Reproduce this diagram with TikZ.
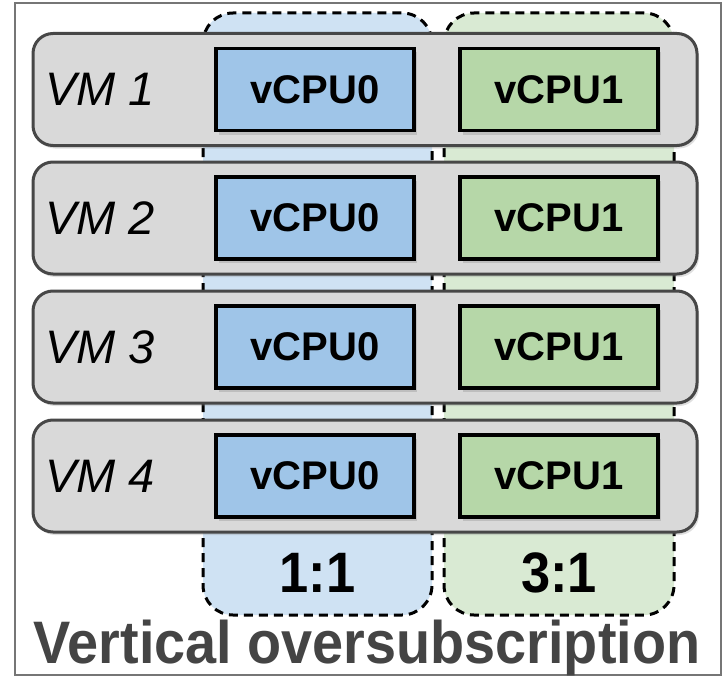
\documentclass[tikz,border=0pt]{standalone}
\usepackage{fontspec}
\setmainfont{Liberation Sans}
\usetikzlibrary{shadows}
\definecolor{frameGray}{HTML}{767676}
\definecolor{vmFill}{HTML}{D9D9D9}
\definecolor{vmLine}{HTML}{474747}
\definecolor{cpuBlue}{HTML}{9FC5E8}
\definecolor{cpuGreen}{HTML}{B6D7A8}
\definecolor{colBlue}{HTML}{CFE2F3}
\definecolor{colGreen}{HTML}{D9EAD3}
\definecolor{titleGray}{HTML}{444444}
\tikzset{
  column/.style={draw=black, dash pattern=on 9pt off 6pt, line width=3pt, rounded corners=30pt},
  vmbox/.style={draw=vmLine, fill=vmFill, line width=3pt, rounded corners=20pt,
    minimum width=664pt, minimum height=112pt, inner sep=0pt,
    drop shadow={shadow xshift=2pt, shadow yshift=-3pt, opacity=0.25}},
  cpubox/.style={draw=black, line width=3.2pt, minimum width=198pt, minimum height=82pt, inner sep=0pt,
    font=\fontsize{40}{44}\selectfont\bfseries,
    drop shadow={shadow xshift=3pt, shadow yshift=-4pt, opacity=0.3}},
  vmlabel/.style={anchor=west, inner sep=0pt, font=\fontsize{47}{50}\selectfont\itshape},
  ratio/.style={font=\fontsize{57}{60}\selectfont\bfseries, inner sep=0pt, xscale=0.92},
}
\begin{document}
\begin{tikzpicture}[x=1pt, y=-1pt]
  \useasboundingbox (0,0) rectangle (728,677);
  % outer frame
  \draw[frameGray, line width=2.4pt] (15,3) rectangle (721,675);
  % dashed mapping columns
  \path[column, fill=colBlue] (203,13) rectangle (432,615);
  \path[column, fill=colGreen] (444,13) rectangle (674,615);
  % virtual machines with their vCPUs
  \foreach \i/\cy in {1/89.5, 2/218, 3/347, 4/476} {
    \node[vmbox] (vm\i) at (365,\cy) {};
    \node[vmlabel] (lab\i) at (45,\cy) {VM \i};
    \node[cpubox, fill=cpuBlue] (cpua\i) at (315,\cy) {vCPU0};
    \node[cpubox, fill=cpuGreen] (cpub\i) at (559,\cy) {vCPU1};
  }
  % consolidation ratios
  \node[ratio, anchor=base] (r1) at (317.5,592) {1:1};
  \node[ratio, anchor=base] (r3) at (559,592) {3:1};
  % caption
  \node[anchor=base, inner sep=0pt, text=titleGray, xscale=0.93,
    font=\fontsize{60}{64}\selectfont\bfseries] (title) at (367,663) {Vertical oversubscription};
\end{tikzpicture}
\end{document}
